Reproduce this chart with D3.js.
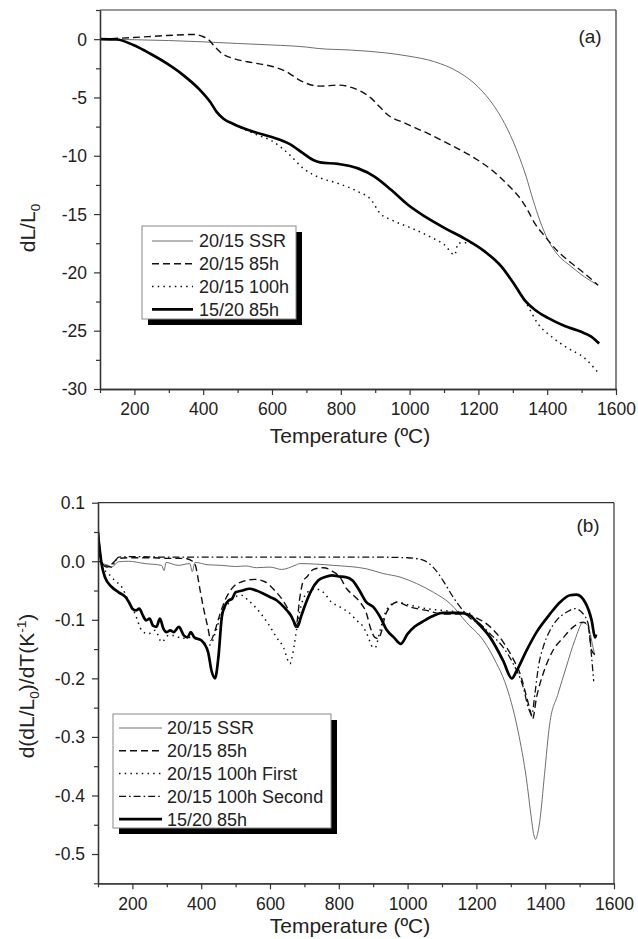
<!DOCTYPE html>
<html>
<head>
<meta charset="utf-8">
<script src="https://cdn.jsdelivr.net/npm/d3@7"></script>
<style>
  html, body { margin: 0; padding: 0; background: #fff; }
  svg { display: block; font-family: "Liberation Sans", Arial, Helvetica, sans-serif; }
</style>
</head>
<body>
<svg id="chart" width="638" height="939"></svg>
<script>
// ---------- Panel (a): dilatometric shrinkage dL/L0 vs temperature ----------
const a_ssr = [[100,0],[200,-0.05],[300,-0.12],[400,-0.23],[500,-0.37],[600,-0.5],[700,-0.68],[734,-0.8],[831,-0.94],[928,-1.17],[998,-1.46],[1073,-1.94],[1141,-2.8],[1199,-4.09],[1247,-5.8],[1286,-7.8],[1315,-9.8],[1339,-11.8],[1359,-13.8],[1378,-15.5],[1402,-17.2],[1431,-18.5],[1470,-19.5],[1509,-20.4],[1548,-21.1]];
const a_85h = [[100,0],[197,0.14],[294,0.31],[371,0.4],[396,0.26],[415,-0.03],[434,-0.66],[454,-1.23],[488,-1.66],[546,-2.03],[604,-2.37],[643,-2.8],[672,-3.37],[701,-3.8],[740,-4.03],[792,-3.94],[831,-4.14],[860,-4.5],[889,-5.08],[913,-5.8],[937,-6.5],[986,-7.2],[1054,-8.1],[1121,-9.1],[1189,-10.2],[1238,-11.2],[1286,-12.5],[1325,-13.8],[1344,-14.7],[1364,-15.8],[1393,-16.9],[1431,-18.2],[1470,-19.2],[1509,-20.1],[1548,-21.1]];
const a_100h = [[100,0],[149,-0.03],[197,-0.51],[245,-1.23],[294,-2.08],[342,-3.08],[391,-4.37],[420,-5.37],[439,-6.23],[458,-6.8],[488,-7.28],[546,-8.08],[604,-8.8],[652,-9.94],[691,-11.08],[740,-11.9],[792,-12.37],[850,-13.08],[889,-13.8],[913,-14.9],[947,-15.5],[1005,-16.2],[1063,-17.0],[1102,-17.65],[1131,-18.5],[1141,-17.5],[1170,-17.45],[1218,-18.2],[1267,-19.5],[1306,-21.1],[1344,-22.9],[1373,-24.4],[1412,-25.5],[1460,-26.5],[1509,-27.35],[1548,-28.6]];
const a_1520 = [[100,0],[149,-0.03],[197,-0.51],[245,-1.23],[294,-2.08],[342,-3.08],[391,-4.37],[420,-5.37],[439,-6.23],[458,-6.8],[488,-7.28],[546,-7.94],[604,-8.43],[652,-9.0],[691,-9.8],[720,-10.37],[740,-10.57],[792,-10.7],[850,-11.08],[899,-11.8],[947,-12.94],[995,-14.2],[1044,-15.2],[1102,-16.2],[1160,-17.1],[1218,-18.2],[1267,-19.5],[1306,-21.1],[1335,-22.4],[1364,-23.2],[1402,-23.9],[1451,-24.6],[1499,-25.1],[1528,-25.5],[1551,-26.1]];

// ---------- Panel (b): shrinkage rate d(dL/L0)/dT ----------
const b_ssr = [[100,0.03],[104,0.01],[111,-0.003],[130,-0.007],[140,-0.01],[159,-0.001],[188,0.0],[237,-0.004],[285,-0.007],[292,-0.016],[298,-0.002],[333,-0.007],[367,-0.004],[374,-0.018],[382,-0.002],[420,-0.006],[460,-0.007],[500,-0.009],[530,-0.008],[560,-0.011],[600,-0.01],[634,-0.014],[673,-0.007],[687,-0.004],[784,-0.007],[881,-0.013],[929,-0.021],[978,-0.027],[1026,-0.038],[1075,-0.053],[1123,-0.072],[1172,-0.105],[1220,-0.135],[1259,-0.175],[1282,-0.205],[1321,-0.29],[1345,-0.37],[1360,-0.44],[1366,-0.465],[1372,-0.475],[1378,-0.465],[1384,-0.445],[1398,-0.364],[1413,-0.278],[1437,-0.227],[1461,-0.181],[1486,-0.135],[1510,-0.105],[1524,-0.11],[1539,-0.147],[1544,-0.16]];
const b_85h = [[100,0.07],[104,0.03],[110,0.0],[125,-0.01],[140,-0.005],[160,0.005],[200,0.006],[250,0.006],[300,0.005],[350,0.005],[375,0.0],[382,-0.005],[397,-0.05],[406,-0.078],[419,-0.112],[428,-0.135],[437,-0.124],[452,-0.095],[469,-0.067],[498,-0.041],[518,-0.035],[556,-0.031],[585,-0.035],[614,-0.05],[643,-0.072],[663,-0.095],[675,-0.113],[687,-0.061],[697,-0.033],[707,-0.027],[726,-0.014],[755,-0.011],[784,-0.018],[803,-0.027],[823,-0.047],[842,-0.058],[862,-0.07],[881,-0.09],[891,-0.112],[905,-0.13],[915,-0.132],[925,-0.118],[934,-0.095],[949,-0.078],[968,-0.07],[1007,-0.078],[1055,-0.084],[1104,-0.09],[1152,-0.09],[1201,-0.097],[1240,-0.112],[1278,-0.138],[1307,-0.167],[1327,-0.192],[1346,-0.232],[1359,-0.261],[1363,-0.27],[1375,-0.232],[1394,-0.192],[1423,-0.152],[1453,-0.13],[1482,-0.112],[1511,-0.104],[1525,-0.112],[1535,-0.152],[1545,-0.16]];
const b_100hFirst = [[100,0.03],[105,0.0],[115,-0.012],[130,-0.021],[149,-0.033],[169,-0.044],[188,-0.067],[208,-0.09],[227,-0.118],[246,-0.124],[266,-0.118],[285,-0.138],[304,-0.127],[324,-0.127],[343,-0.132],[362,-0.13],[382,-0.132],[401,-0.135],[421,-0.144],[430,-0.14],[440,-0.124],[459,-0.09],[479,-0.072],[498,-0.061],[517,-0.058],[537,-0.067],[566,-0.084],[595,-0.107],[619,-0.13],[639,-0.147],[658,-0.175],[668,-0.152],[677,-0.118],[687,-0.084],[700,-0.06],[716,-0.05],[731,-0.047],[755,-0.053],[779,-0.07],[803,-0.078],[828,-0.087],[852,-0.101],[871,-0.112],[886,-0.13],[895,-0.144],[905,-0.148],[920,-0.118],[934,-0.09],[949,-0.075],[968,-0.07],[1007,-0.075],[1055,-0.081],[1104,-0.084],[1152,-0.087],[1191,-0.09]];
const b_100hSecond = [[100,0.065],[104,0.03],[110,0.0],[125,-0.008],[140,-0.01],[150,0.0],[160,0.007],[200,0.008],[300,0.007],[400,0.007],[500,0.007],[600,0.007],[700,0.007],[800,0.007],[900,0.007],[1000,0.006],[1045,0.002],[1074,-0.01],[1103,-0.033],[1132,-0.061],[1161,-0.084],[1191,-0.101],[1201,-0.103],[1240,-0.124],[1278,-0.147],[1307,-0.175],[1336,-0.215],[1351,-0.25],[1361,-0.262],[1370,-0.227],[1380,-0.181],[1394,-0.147],[1414,-0.118],[1433,-0.101],[1462,-0.087],[1487,-0.081],[1506,-0.087],[1525,-0.107],[1535,-0.164],[1541,-0.205]];
const b_1520 = [[100,0.045],[105,0.02],[110,-0.003],[120,-0.027],[140,-0.044],[160,-0.053],[180,-0.061],[190,-0.07],[200,-0.081],[210,-0.084],[220,-0.081],[230,-0.092],[240,-0.101],[250,-0.098],[260,-0.11],[270,-0.112],[280,-0.098],[290,-0.115],[300,-0.121],[310,-0.118],[320,-0.121],[335,-0.112],[350,-0.127],[360,-0.13],[370,-0.121],[380,-0.13],[400,-0.135],[420,-0.155],[430,-0.187],[440,-0.2],[450,-0.164],[460,-0.095],[470,-0.075],[480,-0.067],[490,-0.064],[500,-0.053],[520,-0.05],[540,-0.047],[560,-0.05],[580,-0.055],[600,-0.061],[620,-0.067],[640,-0.078],[660,-0.092],[680,-0.112],[690,-0.095],[700,-0.078],[720,-0.05],[740,-0.033],[760,-0.027],[780,-0.024],[800,-0.026],[820,-0.027],[840,-0.033],[860,-0.05],[880,-0.07],[900,-0.078],[920,-0.095],[940,-0.118],[960,-0.13],[980,-0.141],[1000,-0.124],[1020,-0.112],[1050,-0.101],[1080,-0.092],[1100,-0.088],[1150,-0.088],[1180,-0.092],[1200,-0.103],[1240,-0.13],[1278,-0.17],[1303,-0.2],[1317,-0.187],[1346,-0.152],[1375,-0.121],[1414,-0.09],[1443,-0.07],[1472,-0.058],[1491,-0.057],[1516,-0.07],[1535,-0.101],[1545,-0.13],[1548,-0.125]];

// Tick values
const xMajorTicks = [200, 400, 600, 800, 1000, 1200, 1400, 1600];
const xMinorTicks = [100, 300, 500, 700, 900, 1100, 1300, 1500];
const aYMajorTicks = [0, -5, -10, -15, -20, -25, -30];
const aYMinorTicks = [2.5, -2.5, -7.5, -12.5, -17.5, -22.5, -27.5];
const bYMajorTicks = [0.1, 0.0, -0.1, -0.2, -0.3, -0.4, -0.5];
const bYMinorTicks = [0.05, -0.05, -0.15, -0.25, -0.35, -0.45, -0.55];

// Line styles shared by both panels
const styles = {
  ssr:    { stroke: "#6e6e6e", width: 1.0, dash: null },
  dashed: { stroke: "#111", width: 1.4, dash: "7,4" },
  dotted: { stroke: "#111", width: 1.5, dash: "1.5,4.2" },
  dashdot:{ stroke: "#111", width: 1.3, dash: "7,3,1.6,3" },
  thick:  { stroke: "#000", width: 2.7, dash: null }
};

// plain hyphen for negative tick labels
const hyphen = f => d => f(d).replace("\u2212", "-");

const svg = d3.select("#chart");
const FONT_TICK = 17.5, FONT_LEG = 18, FONT_TITLE = 21;

function drawPanel(cfg) {
  const { left, right, top, bottom, yDomain, yMajor, yMinor, yFormat, series, legend, label, yTitle, xTitleY, idx } = cfg;
  const x = d3.scaleLinear().domain([100, 1600]).range([left, right]);
  const y = d3.scaleLinear().domain(yDomain).range([bottom, top]);
  const g = svg.append("g");

  const clipId = "clip" + idx;
  svg.append("defs").append("clipPath").attr("id", clipId)
    .append("rect").attr("x", left).attr("y", top).attr("width", right - left).attr("height", bottom - top);

  // curves
  const line = d3.line().x(d => x(d[0])).y(d => y(d[1])).curve(d3.curveMonotoneX);
  const cg = g.append("g").attr("clip-path", `url(#${clipId})`);
  series.forEach(s => {
    const st = styles[s.style];
    cg.append("path").datum(s.data)
      .attr("d", line)
      .attr("fill", "none")
      .attr("stroke", st.stroke)
      .attr("stroke-width", st.width)
      .attr("stroke-dasharray", st.dash)
      .attr("stroke-linejoin", "round");
  });

  // frame (top and right)
  g.append("line").attr("x1", left).attr("x2", right).attr("y1", top).attr("y2", top)
    .attr("stroke", "#333").attr("stroke-width", 1.2);
  g.append("line").attr("x1", right).attr("x2", right).attr("y1", top).attr("y2", bottom)
    .attr("stroke", "#333").attr("stroke-width", 1.2);

  // axes
  const xAxis = g.append("g").attr("transform", `translate(0,${bottom})`)
    .call(d3.axisBottom(x).tickValues(xMajorTicks).tickSize(6).tickSizeOuter(0).tickPadding(8).tickFormat(d3.format("d")));
  g.append("g").attr("transform", `translate(0,${bottom})`)
    .call(d3.axisBottom(x).tickValues(xMinorTicks).tickSize(4).tickSizeOuter(0).tickFormat(""));
  const yAxis = g.append("g").attr("transform", `translate(${left},0)`)
    .call(d3.axisLeft(y).tickValues(yMajor).tickSize(6).tickSizeOuter(0).tickPadding(7).tickFormat(hyphen(yFormat)));
  g.append("g").attr("transform", `translate(${left},0)`)
    .call(d3.axisLeft(y).tickValues(yMinor).tickSize(4).tickSizeOuter(0).tickFormat(""));

  g.selectAll(".domain").attr("stroke", "#333").attr("stroke-width", 1.3);
  g.selectAll(".tick line").attr("stroke", "#333").attr("stroke-width", 1.2);
  g.selectAll(".tick text").attr("font-size", FONT_TICK).attr("fill", "#222")
    .attr("font-family", "'Liberation Sans', Arial, sans-serif");
  xAxis.selectAll(".tick text").attr("dy", "0.71em");
  yAxis.selectAll(".tick text").attr("dy", "0.34em");

  // axis titles
  g.append("text").attr("x", 350).attr("y", xTitleY)
    .attr("text-anchor", "middle").attr("font-size", FONT_TITLE).attr("fill", "#222")
    .text("Temperature (ºC)");

  const yt = g.append("text")
    .attr("transform", `translate(${yTitle.x},${yTitle.y}) rotate(-90)`)
    .attr("text-anchor", "middle").attr("font-size", FONT_TITLE).attr("fill", "#222");
  yTitle.parts.forEach(p => {
    const t = yt.append("tspan").text(p.t);
    if (p.sub) t.attr("font-size", FONT_TITLE * 0.65).attr("dy", 5);
    if (p.sup) t.attr("font-size", FONT_TITLE * 0.65).attr("dy", -8);
    if (p.back) t.attr("dy", p.back);
  });

  // panel label
  g.append("text").attr("x", label.x).attr("y", label.y).attr("text-anchor", "middle")
    .attr("font-size", 19).attr("fill", "#222").text(label.text);

  // legend with drop shadow
  const lg = g.append("g");
  lg.append("rect").attr("x", legend.x + 6).attr("y", legend.y + 6)
    .attr("width", legend.w).attr("height", legend.h).attr("fill", "#000");
  lg.append("rect").attr("x", legend.x).attr("y", legend.y)
    .attr("width", legend.w).attr("height", legend.h)
    .attr("fill", "#fff").attr("stroke", "#888").attr("stroke-width", 1);
  series.forEach((s, i) => {
    const st = styles[s.style];
    const cy = legend.y + legend.first + i * legend.step;
    lg.append("line").attr("x1", legend.x + legend.lx1).attr("x2", legend.x + legend.lx2)
      .attr("y1", cy).attr("y2", cy)
      .attr("stroke", st.stroke).attr("stroke-width", st.width).attr("stroke-dasharray", st.dash);
    lg.append("text").attr("x", legend.x + legend.tx).attr("y", cy).attr("dy", "0.36em")
      .attr("font-size", FONT_LEG).attr("fill", "#222").text(s.name);
  });
}

drawPanel({
  idx: "a", left: 100, right: 616, top: 10, bottom: 389,
  yDomain: [-30, 2.5], yMajor: aYMajorTicks, yMinor: aYMinorTicks, yFormat: d3.format("d"),
  series: [
    { name: "20/15 SSR", style: "ssr", data: a_ssr },
    { name: "20/15 85h", style: "dashed", data: a_85h },
    { name: "20/15 100h", style: "dotted", data: a_100h },
    { name: "15/20 85h", style: "thick", data: a_1520 }
  ],
  legend: { x: 142, y: 226, w: 154, h: 93, first: 15, step: 22.8, lx1: 10, lx2: 51, tx: 57 },
  label: { text: "(a)", x: 590, y: 43 },
  yTitle: { x: 35, y: 228, parts: [{ t: "dL/L" }, { t: "0", sub: true }] },
  xTitleY: 443
});

drawPanel({
  idx: "b", left: 98, right: 614, top: 502.7, bottom: 883.3,
  yDomain: [-0.55, 0.1], yMajor: bYMajorTicks, yMinor: bYMinorTicks, yFormat: d3.format(".1f"),
  series: [
    { name: "20/15 SSR", style: "ssr", data: b_ssr },
    { name: "20/15 85h", style: "dashed", data: b_85h },
    { name: "20/15 100h First", style: "dotted", data: b_100hFirst },
    { name: "20/15 100h Second", style: "dashdot", data: b_100hSecond },
    { name: "15/20 85h", style: "thick", data: b_1520 }
  ],
  legend: { x: 113, y: 714, w: 218, h: 114, first: 14, step: 22.8, lx1: 6, lx2: 49, tx: 54 },
  label: { text: "(b)", x: 588, y: 532 },
  yTitle: { x: 34, y: 686, parts: [{ t: "d(dL/L" }, { t: "0", sub: true }, { t: ")/dT(K", back: -5 }, { t: "-1", sup: true }, { t: ")", back: 8 }] },
  xTitleY: 933
});
</script>
</body>
</html>
